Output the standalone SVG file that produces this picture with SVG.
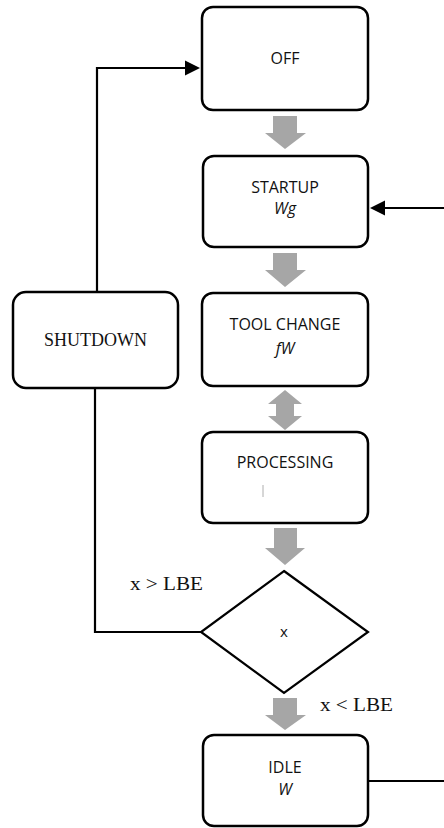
<svg xmlns="http://www.w3.org/2000/svg" width="444" height="828" viewBox="0 0 444 828">
<style>
.box{fill:#fff;stroke:#000;stroke-width:2.5}
.lbl{font-family:"Open Sans",sans-serif;font-size:16px;fill:#111;text-anchor:middle}
.it{font-style:italic}
.ser{font-family:"Liberation Serif",serif;font-size:18px;fill:#111}
.con{fill:none;stroke:#000;stroke-width:2.2}
.flow{fill:#a6a6a6}
</style>
<g id="connectors">
<polyline class="con" points="97,292 97,68 188,68"/>
<path d="M185,60.5 L200,68 L185,75.5 z" fill="#000"/>
<line class="con" x1="444" y1="208" x2="383" y2="208"/>
<path d="M385,200.5 L370,208 L385,215.5 z" fill="#000"/>
<polyline class="con" points="201,632 95,632 95,388"/>
<line class="con" x1="368" y1="781" x2="444" y2="781"/>
<path class="flow" d="M273,116 H297 V133 H306 L285,149 L265,133 H273 z"/>
<path class="flow" d="M273,253 H297 V270 H306 L285,287 L265,270 H273 z"/>
<path class="flow" d="M285,390 L302,404 H294 V416 H302 L285,430 L268,416 H276 V404 H268 z"/>
<path class="flow" d="M274,528 H297 V548 H305 L285,565 L265,548 H274 z"/>
<path class="flow" d="M273,698 H297 V715 H306 L285,730 L265,715 H273 z"/>
<text class="ser" x="130" y="590" textLength="73" lengthAdjust="spacingAndGlyphs">x &gt; LBE</text>
<text class="ser" x="320" y="711" textLength="73" lengthAdjust="spacingAndGlyphs">x &lt; LBE</text>
</g>
<g id="off">
<rect class="box" x="202" y="7" width="166" height="103" rx="11"/>
<text class="lbl" x="285" y="64">OFF</text>
</g>
<g id="startup">
<rect class="box" x="203" y="156" width="165" height="91" rx="11"/>
<text class="lbl" x="285" y="193">STARTUP</text>
<text class="lbl it" x="285" y="214">Wg</text>
</g>
<g id="toolchange">
<rect class="box" x="202" y="293" width="166" height="93" rx="11"/>
<text class="lbl" x="285" y="330">TOOL CHANGE</text>
<text class="lbl it" x="285" y="354">fW</text>
</g>
<g id="processing">
<rect class="box" x="202" y="432" width="166" height="91" rx="11"/>
<text class="lbl" x="285" y="468">PROCESSING</text>
<line x1="263" y1="485" x2="263" y2="497" stroke="#999" stroke-width="0.8"/>
</g>
<g id="shutdown">
<rect class="box" x="13" y="292" width="165" height="96" rx="13"/>
<text class="ser" x="95.5" y="346" text-anchor="middle">SHUTDOWN</text>
</g>
<g id="decision">
<polygon points="284,571 368,632 284,693 201,632" fill="#fff" stroke="#000" stroke-width="2.2"/>
<text class="lbl" x="284" y="637" style="font-size:15px">x</text>
</g>
<g id="idle">
<rect class="box" x="203" y="735" width="165" height="91" rx="11"/>
<text class="lbl" x="285" y="773">IDLE</text>
<text class="lbl it" x="285" y="795">W</text>
</g>
</svg>
